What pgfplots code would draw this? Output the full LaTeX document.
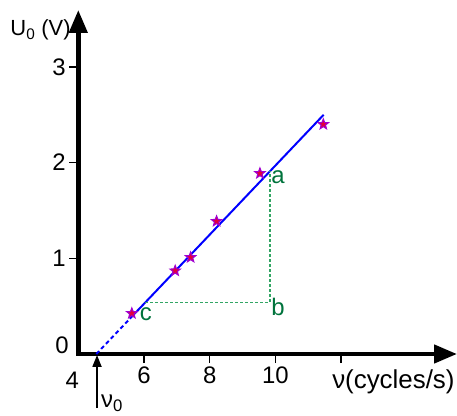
\documentclass[border=0pt]{standalone}
\usepackage{fontspec}
\setmainfont{Liberation Sans}
\usepackage{pgfplots}
\pgfplotsset{compat=1.18}
\usetikzlibrary{arrows.meta}
\definecolor{linblue}{RGB}{0,0,255}
\definecolor{dashgreen}{RGB}{50,165,100}
\definecolor{txtgreen}{RGB}{0,115,60}
\definecolor{starfill}{RGB}{225,0,60}
\definecolor{staredge}{RGB}{160,0,210}

% filled five-point star
\pgfdeclareplotmark{fstar}{%
  \pgfpathmoveto{\pgfpointpolar{90}{\pgfplotmarksize}}%
  \pgfpathlineto{\pgfpointpolar{126}{0.42\pgfplotmarksize}}%
  \pgfpathlineto{\pgfpointpolar{162}{\pgfplotmarksize}}%
  \pgfpathlineto{\pgfpointpolar{198}{0.42\pgfplotmarksize}}%
  \pgfpathlineto{\pgfpointpolar{234}{\pgfplotmarksize}}%
  \pgfpathlineto{\pgfpointpolar{270}{0.42\pgfplotmarksize}}%
  \pgfpathlineto{\pgfpointpolar{306}{\pgfplotmarksize}}%
  \pgfpathlineto{\pgfpointpolar{342}{0.42\pgfplotmarksize}}%
  \pgfpathlineto{\pgfpointpolar{18}{\pgfplotmarksize}}%
  \pgfpathlineto{\pgfpointpolar{54}{0.42\pgfplotmarksize}}%
  \pgfpathclose
  \pgfusepathqfillstroke}

\begin{document}
\begin{tikzpicture}[font=\fontsize{24}{28}\selectfont]
\begin{axis}[
  scale only axis,
  width=378.7bp, height=344bp,
  xmin=4, xmax=15.53, ymin=0, ymax=3.595,
  axis lines=left,
  axis line style={line width=4.5bp, line cap=rect, -{Triangle[length=23bp,width=18bp]}},
  xtick={6,8,10,12}, xticklabels={6,8,10,{}},
  ytick={1,2,3},
  tick align=outside,
  major tick length=9bp,
  tick style={line width=1.6bp, black},
  /pgf/number format/assume math mode=true,
  ticklabel style={font=\fontsize{24}{28}\selectfont},
  clip=false,
]
\addplot[linblue, line width=2bp, dash pattern=on 4bp off 3bp] coordinates {(4.55,0) (5.57,0.369)};
\addplot[linblue, line width=2bp] coordinates {(5.57,0.369) (11.47,2.50)};
\addplot[dashgreen, line width=1.6bp, dash pattern=on 3bp off 2bp] coordinates {(6.04,0.54) (9.83,0.54) (9.83,1.908)};
\addplot[only marks, mark=fstar, mark size=5.5bp,
  mark options={fill=starfill, draw=staredge, line width=1bp}] coordinates {
  (5.63,0.425) (6.95,0.87) (7.42,1.01) (8.21,1.387) (9.53,1.888) (11.46,2.40)};
% nu_0 arrow
\addplot[line width=1.8bp, -{Triangle[length=12bp,width=9bp]}] coordinates {(4.57,-0.565) (4.57,-0.01)};

\node[txtgreen, inner sep=0] at (axis cs:10.08,1.85) {a};
\node[txtgreen, inner sep=0] at (axis cs:10.08,0.491) {b};
\node[txtgreen, inner sep=0] at (axis cs:6.06,0.418) {c};

\node[anchor=base, inner sep=0] at ([shift={(-16.3bp,0.5bp)}]axis cs:4,0) {0};
\node[anchor=base, inner sep=0] at ([shift={(-6bp,-34.5bp)}]axis cs:4,0) {4};
\node[anchor=base west, inner sep=0, font=\fontsize{26}{30}\selectfont] at ([shift={(-9bp,-34.5bp)}]axis cs:12,0) {ν(cycles/s)};
\node[anchor=west, inner sep=0] at ([shift={(4bp,-49bp)}]axis cs:4.57,0) {ν\textsubscript{0}};
\node[anchor=west, inner sep=0, font=\fontsize{22}{26}\selectfont] at ([shift={(-68bp,-20bp)}]rel axis cs:0,1) {U\textsubscript{0} (V)};
\end{axis}
\pgfresetboundingbox
\path ([shift={(-78.3bp,-62bp)}]current axis.south west) rectangle ([shift={(0bp,10bp)}]current axis.north east);
\end{tikzpicture}
\end{document}
